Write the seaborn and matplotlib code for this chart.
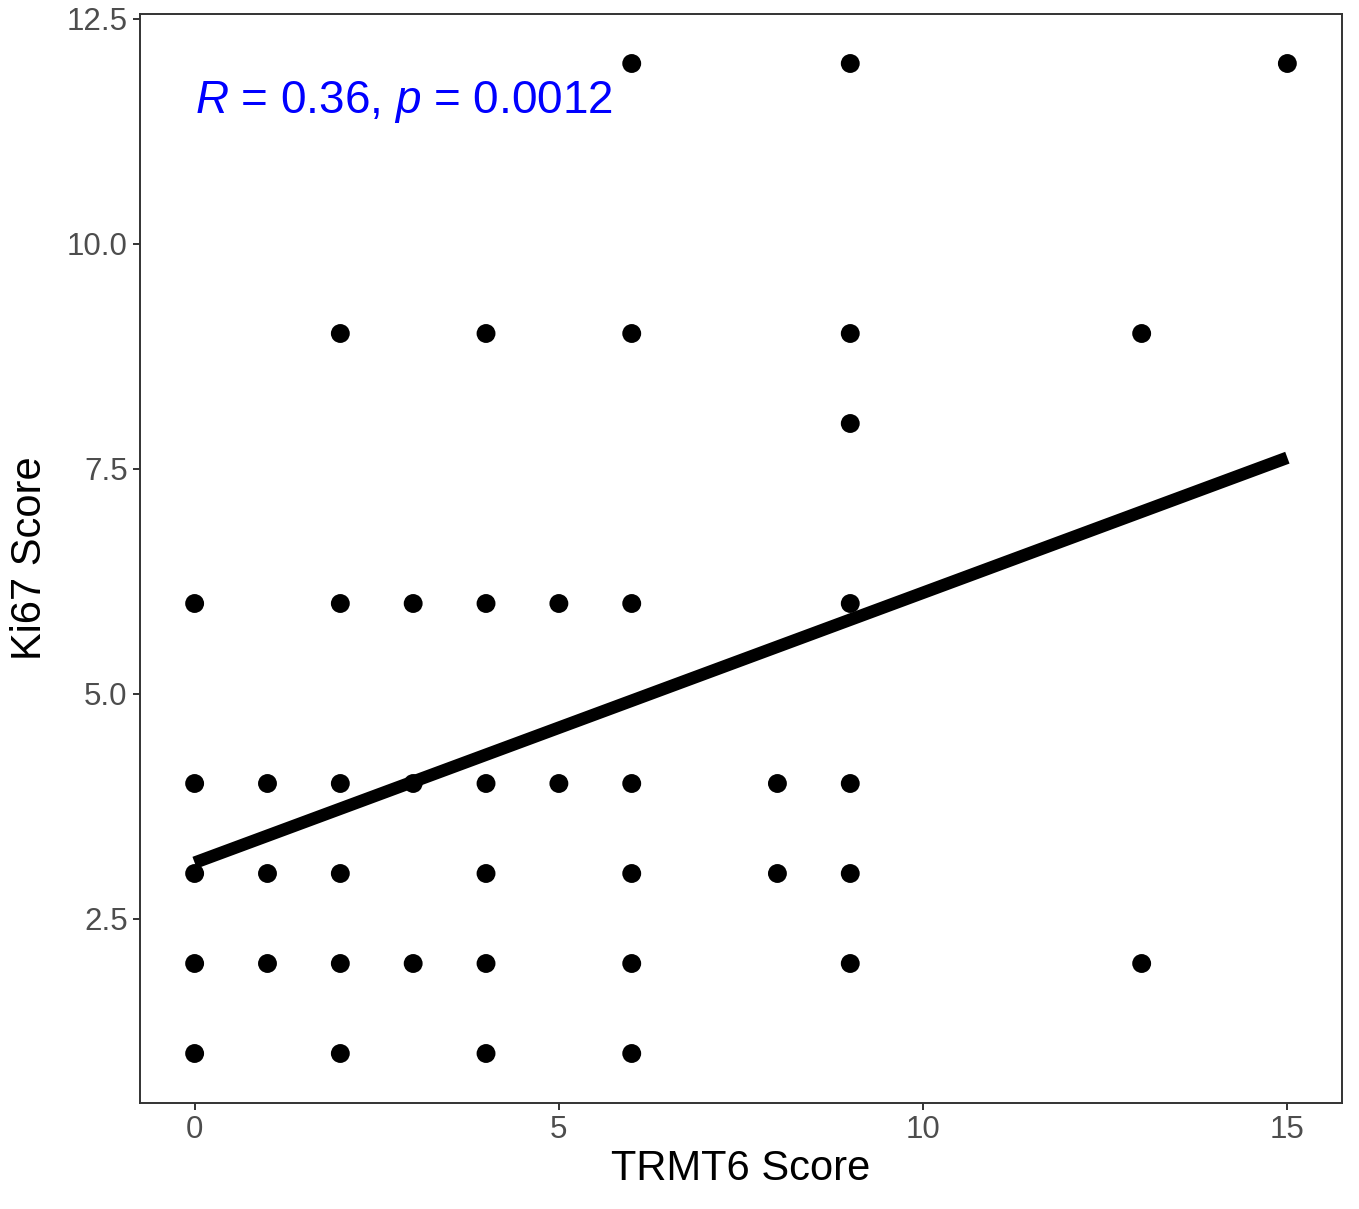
import numpy as np
import pandas as pd
import matplotlib
matplotlib.use("Agg")
import matplotlib.pyplot as plt
import seaborn as sns

# TRMT6 vs Ki67 scores (unique points)
trmt6 = [6, 9, 15,
         2, 4, 6, 9, 13,
         9,
         0, 2, 3, 4, 5, 6, 9,
         0, 1, 2, 3, 4, 5, 6, 8, 9,
         0, 1, 2, 4, 6, 8, 9,
         0, 1, 2, 3, 4, 6, 9, 13,
         0, 2, 4, 6]
ki67 = [12, 12, 12,
        9, 9, 9, 9, 9,
        8,
        6, 6, 6, 6, 6, 6, 6,
        4, 4, 4, 4, 4, 4, 4, 4, 4,
        3, 3, 3, 3, 3, 3, 3,
        2, 2, 2, 2, 2, 2, 2, 2,
        1, 1, 1, 1]

# linear fit
fit_intercept = 3.12
fit_slope = 0.30
cor_label = "$R$ = 0.36, $p$ = 0.0012"

df = pd.DataFrame({"TRMT6": trmt6, "Ki67": ki67})
fit_x = np.array([df["TRMT6"].min(), df["TRMT6"].max()], dtype=float)
fit = pd.DataFrame({"TRMT6": fit_x, "Ki67": fit_intercept + fit_slope * fit_x})

sns.set_style("white")
plt.rcParams["font.family"] = ["Liberation Sans", "DejaVu Sans"]
plt.rcParams["mathtext.fontset"] = "custom"
plt.rcParams["mathtext.rm"] = "Liberation Sans"
plt.rcParams["mathtext.it"] = "Liberation Sans:italic"

fig = plt.figure(figsize=(13.59, 12.09), dpi=100)
ax = fig.add_axes([140 / 1359, 106 / 1209, 1202 / 1359, 1089 / 1209])

sns.scatterplot(data=df, x="TRMT6", y="Ki67", color="black", s=185,
                edgecolor="none", ax=ax, zorder=3)
sns.lineplot(data=fit, x="TRMT6", y="Ki67", color="black", linewidth=9,
             ax=ax, zorder=2, solid_capstyle="butt")

ax.text(0, 11.45, cor_label, color="#0000FF", fontsize=33, ha="left",
        va="baseline")

ax.set_xlim(-0.75, 15.75)
ax.set_ylim(0.45, 12.55)
ax.set_xticks([0, 5, 10, 15])
ax.set_yticks([2.5, 5.0, 7.5, 10.0, 12.5])
ax.set_yticklabels(["2.5", "5.0", "7.5", "10.0", "12.5"])

for sp in ax.spines.values():
    sp.set_color("#333333")
    sp.set_linewidth(1.4)
ax.tick_params(axis="both", which="major", labelsize=22.5, colors="#4D4D4D",
               length=5, width=1.4, direction="out", pad=4,
               left=True, bottom=True)
ax.tick_params(axis="both", color="#333333")

ax.set_xlabel("TRMT6 Score", fontsize=30, color="black")
ax.set_ylabel("Ki67 Score", fontsize=30, color="black")
ax.xaxis.set_label_coords(0.5, -0.042)
ax.yaxis.set_label_coords(-0.075, 0.5)

fig.savefig("out.png", dpi=100)
